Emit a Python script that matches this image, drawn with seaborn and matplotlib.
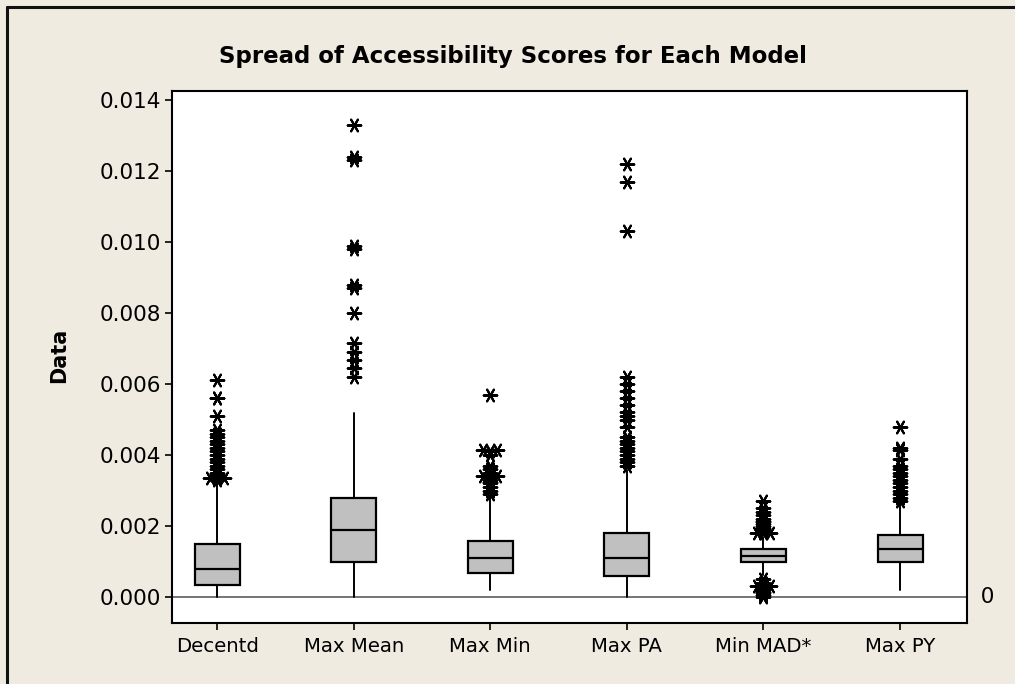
import matplotlib
matplotlib.use("Agg")
import matplotlib.pyplot as plt
from matplotlib.lines import Line2D
import seaborn as sns
import pandas as pd

# ---- data ----
models = ["Decentd", "Max Mean", "Max Min", "Max PA", "Min MAD*", "Max PY"]
q1 = [0.00034, 0.00099, 0.00069, 0.00059, 0.00099, 0.00099]
median = [0.00079, 0.00189, 0.00109, 0.00109, 0.00116, 0.00134]
q3 = [0.00149, 0.00279, 0.00159, 0.00179, 0.00135, 0.00175]
whisker_low = [0.0, 0.0, 0.00020, 0.0, 0.00062, 0.00020]
whisker_high = [0.00330, 0.00518, 0.00287, 0.00358, 0.00170, 0.00265]

out_decentd = [0.0061, 0.0056, 0.00562, 0.0051, 0.0047, 0.0046, 0.0045, 0.0044, 0.0043,
               0.0042, 0.0041, 0.0040, 0.0039, 0.0038, 0.0037, 0.0036, 0.0035, 0.00345,
               0.0034, 0.00335, 0.0033]
out_maxmean = [0.0133, 0.0124, 0.0123, 0.0099, 0.0098, 0.0088, 0.0087, 0.0080,
               0.00715, 0.0069, 0.00668, 0.00645, 0.0062]
out_maxmin = [0.0057, 0.0041, 0.0040, 0.0037, 0.0036, 0.0035, 0.0034, 0.0033,
              0.00325, 0.0032, 0.0031, 0.0030, 0.0029]
out_maxpa = [0.0122, 0.0117, 0.0103, 0.0062, 0.0060, 0.0058, 0.0056, 0.0054, 0.0052,
             0.0051, 0.0050, 0.0048, 0.0045, 0.0044, 0.0043, 0.0042, 0.0041, 0.0040,
             0.0039, 0.0038, 0.0037]
out_minmad = [0.0027, 0.0025, 0.0024, 0.0023, 0.0022, 0.00215, 0.0021, 0.00205, 0.0020,
              0.00195, 0.0019, 0.00185, 0.0018, 0.0005, 0.0004, 0.00035, 0.0003,
              0.00025, 0.0002, 0.00015, 0.0001, 0.00005, 0.0]
out_maxpy = [0.0048, 0.0042, 0.00415, 0.0039, 0.0037, 0.0036, 0.0035, 0.0034, 0.0033,
             0.0032, 0.0031, 0.0030, 0.0029, 0.0028, 0.0027]
outliers = [out_decentd, out_maxmean, out_maxmin, out_maxpa, out_minmad, out_maxpy]

# tied outliers that Minitab draws side by side
ties_decentd = [0.00335]
ties_maxmin = [0.00414, 0.0034]
ties_minmad = [0.0018, 0.0003]
ties = [ties_decentd, [], ties_maxmin, [], ties_minmad, []]

y_ticks = [0.000, 0.002, 0.004, 0.006, 0.008, 0.010, 0.012, 0.014]

# ---- style ----
bg = "#EFEBE1"
sns.set_theme(style="white")
plt.rcParams["font.family"] = ["DejaVu Sans"]

W, H = 1015, 684
fig = plt.figure(figsize=(W / 100, H / 100), dpi=100, facecolor=bg)
L, R, T, B = 172, 967, 91, 623
ax = fig.add_axes([L / W, 1 - B / H, (R - L) / W, (B - T) / H])
ax.set_facecolor("white")

stats = []
for i, m in enumerate(models):
    stats.append(dict(label=m, med=median[i], q1=q1[i], q3=q3[i],
                      whislo=whisker_low[i], whishi=whisker_high[i], fliers=[]))

ax.axhline(0, color="#6a6a6a", lw=1.3, zorder=1)

ax.bxp(stats, positions=range(len(models)), widths=0.33, patch_artist=True,
       showfliers=False, showcaps=False,
       boxprops=dict(facecolor="#C0C0C0", edgecolor="black", linewidth=1.6),
       medianprops=dict(color="black", linewidth=1.6),
       whiskerprops=dict(color="black", linewidth=1.4))

rows = []
for i, m in enumerate(models):
    for v in outliers[i]:
        rows.append((i, v))
    for v in ties[i]:
        rows.append((i - 0.05, v))
        rows.append((i + 0.05, v))
df = pd.DataFrame(rows, columns=["x", "y"])
sns.scatterplot(data=df, x="x", y="y", marker=(6, 2, 90), s=95, color="black",
                edgecolor="black", linewidth=1.5, ax=ax, zorder=5, legend=False)

ax.set_xlim(-0.33, 5.49)
ax.set_ylim(-0.000732, 0.014254)
ax.set_xticks(range(len(models)))
ax.set_xticklabels(models)
ax.set_yticks(y_ticks)
ax.set_yticklabels([f"{t:.3f}" for t in y_ticks])
ax.set_xlabel("")
ax.set_ylabel("")
ax.tick_params(axis="both", direction="out", length=5, width=1.2, color="black",
               labelcolor="black", bottom=True, left=True, pad=4)
ax.tick_params(axis="x", labelsize=14.2, pad=5)
ax.tick_params(axis="y", labelsize=15.5, pad=3)
for s in ax.spines.values():
    s.set_color("black")
    s.set_linewidth(1.5)

ax.text(1.0, 0, "  0", transform=ax.get_yaxis_transform(), ha="left", va="center",
        fontsize=15.5, color="black")

fig.text(0.505, 1 - 57 / H, "Spread of Accessibility Scores for Each Model",
         ha="center", va="center", fontsize=16.5, fontweight="bold", color="black")
fig.text(59 / W, 1 - 355 / H, "Data", rotation=90, ha="center", va="center",
         fontsize=15, fontweight="bold", color="black")

# outer frame (left and top edges visible)
fig.add_artist(Line2D([7 / W, 7 / W], [0, 1 - 7 / H], transform=fig.transFigure,
                      color="#111111", lw=2.2))
fig.add_artist(Line2D([7 / W, 1], [1 - 7 / H, 1 - 7 / H], transform=fig.transFigure,
                      color="#111111", lw=2.2))

fig.savefig("out.png", dpi=100, facecolor=bg)
